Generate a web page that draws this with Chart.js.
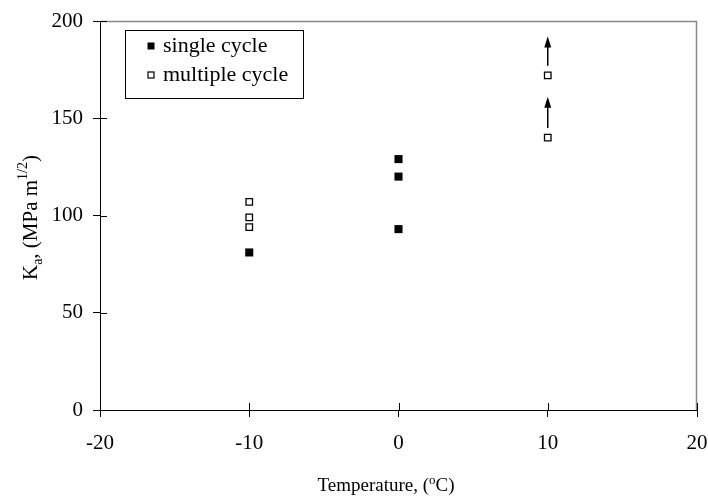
<!DOCTYPE html>
<html><head><meta charset="utf-8">
<script src="https://cdn.jsdelivr.net/npm/chart.js@4/dist/chart.umd.min.js"></script>
<style>html,body{margin:0;padding:0;background:#fff}#wrap{width:708px;height:498px}</style>
</head><body><div id="wrap"><canvas id="c" width="708" height="498"></canvas></div>
<script>
const xTicks = [-20, -10, 0, 10, 20];
const yTicks = [0, 50, 100, 150, 200];
const singleLabel = 'single cycle';
const singleX = [-10, 0, 0, 0];
const singleY = [81, 129, 120, 93];
const multiLabel = 'multiple cycle';
const multiX = [-10, -10, -10, 10, 10];
const multiY = [107, 99, 94, 172, 140];
const arrowX = [10, 10];
const arrowFrom = [177, 145];
const arrowTo = [192, 161];
const FONT = '"Liberation Serif", "Times New Roman", serif';

const toPts = (xs, ys) => xs.map((x, i) => ({x: x, y: ys[i]}));

const decor = {
  id: 'decor',
  afterDraw(chart) {
    const ctx = chart.ctx, a = chart.chartArea;
    const xs = chart.scales.x, ys = chart.scales.y;
    ctx.save();
    // top/right gray frame
    ctx.strokeStyle = '#888'; ctx.lineWidth = 1.5;
    ctx.beginPath();
    ctx.moveTo(a.left, a.top + 0.5); ctx.lineTo(a.right - 0.5, a.top + 0.5); ctx.lineTo(a.right - 0.5, a.bottom);
    ctx.stroke();
    // inner tick halves
    ctx.strokeStyle = '#000'; ctx.lineWidth = 1;
    ctx.beginPath();
    xTicks.forEach(v => { const px = Math.round(xs.getPixelForValue(v)) + 0.5; ctx.moveTo(px, a.bottom); ctx.lineTo(px, a.bottom - 7); });
    yTicks.forEach(v => { const py = Math.round(ys.getPixelForValue(v)) + 0.5; ctx.moveTo(a.left, py); ctx.lineTo(a.left + 7, py); });
    ctx.stroke();
    // arrows
    ctx.fillStyle = '#000'; ctx.lineWidth = 1.5;
    arrowX.forEach((x, i) => {
      const px = xs.getPixelForValue(x);
      const y0 = ys.getPixelForValue(arrowFrom[i]);
      const y1 = ys.getPixelForValue(arrowTo[i]);
      ctx.beginPath(); ctx.moveTo(px, y0); ctx.lineTo(px, y1 + 8); ctx.stroke();
      ctx.beginPath(); ctx.moveTo(px, y1); ctx.lineTo(px - 3.5, y1 + 11); ctx.lineTo(px + 3.5, y1 + 11); ctx.closePath(); ctx.fill();
    });
    // legend
    ctx.strokeStyle = '#000'; ctx.lineWidth = 1;
    ctx.strokeRect(125.5, 30.5, 178, 68);
    ctx.font = '22px ' + FONT; ctx.textBaseline = 'middle'; ctx.textAlign = 'left';
    ctx.fillStyle = '#000';
    ctx.fillRect(147.5, 42.5, 7, 7);
    ctx.fillText(singleLabel, 163, 46);
    ctx.fillStyle = '#fff'; ctx.fillRect(148, 72, 6, 6);
    ctx.strokeStyle = '#000'; ctx.lineWidth = 1.2; ctx.strokeRect(148, 72, 6, 6);
    ctx.fillStyle = '#000';
    ctx.fillText(multiLabel, 163, 75);
    // titles
    const segs = (list) => list.reduce((w, s) => { ctx.font = s[1] + 'px ' + FONT; return w + ctx.measureText(s[0]).width; }, 0);
    const drawSegs = (list, x0, base) => {
      let x = x0;
      ctx.textBaseline = 'alphabetic'; ctx.textAlign = 'left';
      list.forEach(s => { ctx.font = s[1] + 'px ' + FONT; ctx.fillText(s[0], x, base + s[2]); x += ctx.measureText(s[0]).width; });
    };
    const yT = [['K', 21, 0], ['a', 14, 5], [', (MPa m', 21, 0], ['1/2', 14, -10], [')', 21, 0]];
    ctx.save();
    ctx.translate(37, (a.top + a.bottom) / 2 + 2);
    ctx.rotate(-Math.PI / 2);
    drawSegs(yT, -segs(yT) / 2, 0);
    ctx.restore();
    const xT = [['Temperature, (', 19, 0], ['o', 13, -7], ['C)', 19, 0]];
    drawSegs(xT, 386 - segs(xT) / 2, 491);
    ctx.restore();
  }
};

new Chart(document.getElementById('c'), {
  type: 'scatter',
  data: {
    datasets: [
      {label: singleLabel, data: toPts(singleX, singleY), pointStyle: 'rect', pointRadius: 5.7, pointHoverRadius: 5.7,
       backgroundColor: '#000', borderColor: '#000', borderWidth: 0},
      {label: multiLabel, data: toPts(multiX, multiY), pointStyle: 'rect', pointRadius: 4.6, pointHoverRadius: 4.6,
       backgroundColor: '#fff', borderColor: '#000', borderWidth: 1.3}
    ]
  },
  options: {
    responsive: false, animation: false, events: [],
    layout: {padding: {top: 21, right: 11, left: 0, bottom: 0}},
    plugins: {legend: {display: false}, tooltip: {enabled: false}, title: {display: false}},
    scales: {
      x: {
        type: 'linear', min: -20, max: 20,
        afterFit: s => { s.height = 88; s.paddingLeft = 0; s.paddingRight = 0; },
        afterBuildTicks: s => { s.ticks = xTicks.map(v => ({value: v})); },
        border: {color: '#000', width: 1},
        grid: {drawOnChartArea: false, color: '#000', tickLength: 7},
        ticks: {color: '#000', font: {family: FONT, size: 21}, padding: 14, maxRotation: 0}
      },
      y: {
        type: 'linear', min: 0, max: 200,
        afterFit: s => { s.width = 100; s.paddingTop = 0; s.paddingBottom = 0; },
        afterBuildTicks: s => { s.ticks = yTicks.map(v => ({value: v})); },
        border: {color: '#000', width: 1},
        grid: {drawOnChartArea: false, color: '#000', tickLength: 7},
        ticks: {color: '#000', font: {family: FONT, size: 21}, padding: 10}
      }
    }
  },
  plugins: [decor]
});
</script></body></html>
